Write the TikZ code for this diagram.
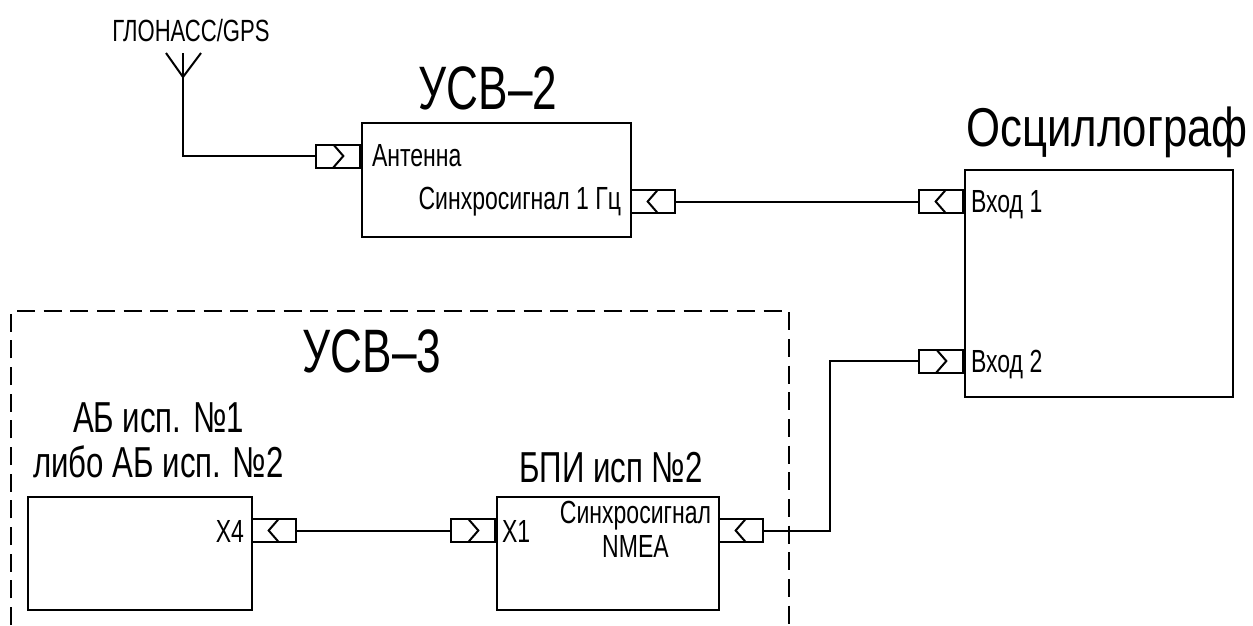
\documentclass[tikz,border=0pt]{standalone}
\usepackage{fontspec}
\setmainfont[FakeStretch=0.72]{Liberation Sans}
\newfontfamily\oscfont[FakeStretch=0.8]{Liberation Sans}
\usetikzlibrary{positioning}

\begin{document}
\begin{tikzpicture}[
  x=0.75pt, y=-0.75pt,
  line width=1.5pt,
  unit/.style={draw, anchor=north west, inner sep=0pt},
  jack/.style={draw, minimum width=33pt, minimum height=17.25pt, inner sep=0pt},
  jackin/.style={jack, path picture={
    \draw ([xshift=-3.5pt]path picture bounding box.north)
      -- ([xshift=4pt]path picture bounding box.center)
      -- ([xshift=-3.5pt]path picture bounding box.south);}},
  jackout/.style={jack, path picture={
    \draw ([xshift=3.5pt]path picture bounding box.north)
      -- ([xshift=-4pt]path picture bounding box.center)
      -- ([xshift=3.5pt]path picture bounding box.south);}},
  huge/.style={font=\fontsize{46}{46}\selectfont, inner sep=0pt, anchor=base},
  mid/.style={font=\fontsize{32.5}{33.75}\selectfont, inner sep=0pt, anchor=base, align=center},
  tiny/.style={font=\fontsize{24}{25.5}\selectfont, inner sep=0pt, anchor=base, align=center}
]
\useasboundingbox (0,0) rectangle (1253,625);

% blocks
\node[unit, minimum width=201.75pt, minimum height=85.5pt] (usv2) at (361,122) {};
\node[unit, minimum width=201pt, minimum height=170.25pt] (osc) at (964,169) {};
\node[unit, minimum width=168pt, minimum height=84.75pt] (ab) at (27,496) {};
\node[unit, minimum width=166.5pt, minimum height=84.75pt] (bpi) at (496,496) {};

% frame of the second device
\draw[line width=0.9pt, dash pattern=on 13.5pt off 6.5pt]
  (11,625) -- (11,311) -- (789,311) -- (789,625);

% connectors
\node[jackin, anchor=east] (jant) at (361,156) {};
\node[jackout, anchor=west] (jsync) at (630,201.5) {};
\node[jackout, anchor=east] (jin1) at (964,201.5) {};
\node[jackin, anchor=east] (jin2) at (964,361) {};
\node[jackout, anchor=west] (jx4) at (251,530.5) {};
\node[jackin, anchor=east] (jx1) at (496,530.5) {};
\node[jackout, anchor=west] (jnmea) at (718,530.5) {};

% antenna
\coordinate (afoot) at (183,77);
\coordinate (atop) at (183,53);
\draw (jant.west) -| (afoot);
\draw (afoot) -- (atop);
\draw (166,53) -- (afoot) -- (201,53);

% wires
\draw (jsync) -- (jin1);
\draw (jx4) -- (jx1);
\coordinate (bend) at (830,361);
\draw (jnmea.east) -| (bend) -- (jin2.west);

% titles
\node[huge] (tusv2) at (488,109) {УСВ–2};
\node[huge, font=\oscfont\fontsize{41}{41}\selectfont] (tosc) at (1107,146) {Осциллограф};
\node[huge] (tusv3) at (372,372) {УСВ–3};
\node[mid] (tab) at (158.5,477) {АБ исп. №1\\либо АБ исп. №2};
\node[mid] (tbpi) at (611,482) {БПИ исп №2};

% labels
\node[tiny, font=\fontsize{23}{25}\selectfont] (tgps) at (191,41) {ГЛОНАСС/GPS};
\node[tiny, anchor=base west] (lant) at (371,166) {Антенна};
\node[tiny, anchor=base east] (lsync) at (622,209) {Синхросигнал 1 Гц};
\node[tiny, anchor=base west] (lin1) at (970,212) {Вход 1};
\node[tiny, anchor=base west] (lin2) at (970,372) {Вход 2};
\node[tiny, anchor=base east] (lx4) at (245,542) {Х4};
\node[tiny, anchor=base west] (lx1) at (501,542) {Х1};
\node[tiny] (lnmea) at (635.5,557) {Синхросигнал\\NMEA};
\end{tikzpicture}
\end{document}
